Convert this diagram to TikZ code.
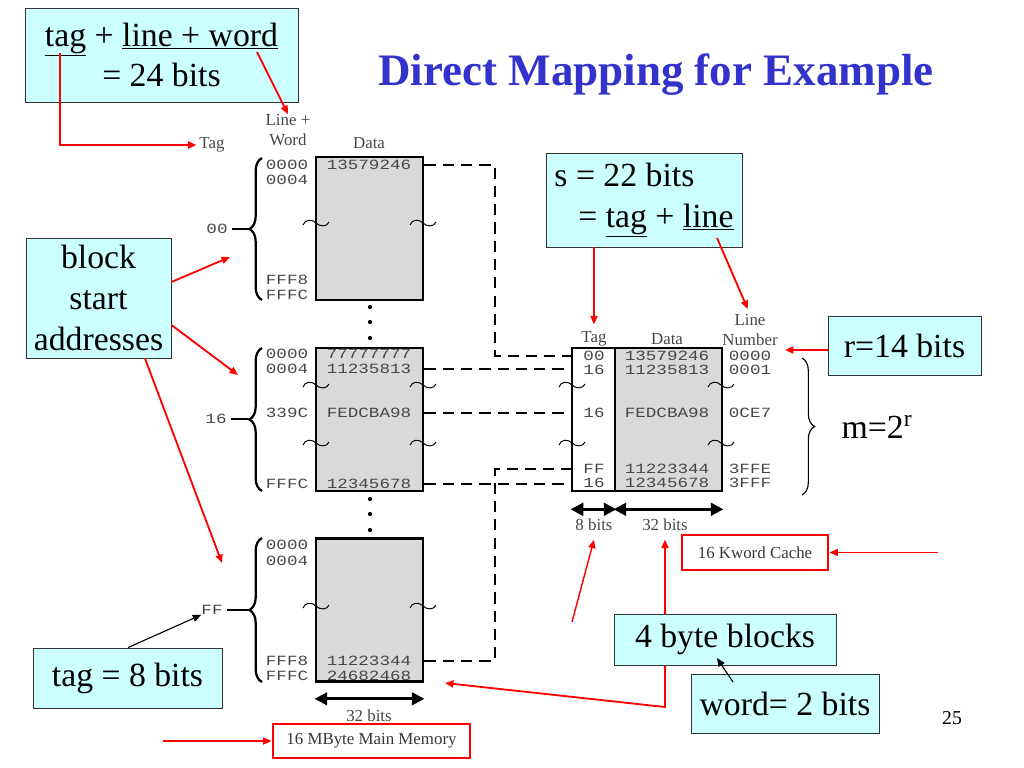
\documentclass[tikz,border=0pt]{standalone}
\usepackage{fontspec}
\setmainfont{Liberation Serif}
\newfontfamily\hexfont[FakeStretch=1.25]{Liberation Mono}
\usetikzlibrary{arrows.meta,decorations.pathreplacing}
\definecolor{callcyan}{HTML}{CCFFFF}
\definecolor{titleblue}{HTML}{3333CC}
\begin{document}
\begin{tikzpicture}[x=0.025cm,y=-0.025cm,
    callout/.style={draw=black!80,line width=0.6pt,fill=callcyan,font=\fontsize{24}{29}\selectfont,inner sep=2pt},
    hex/.style={font=\hexfont\fontsize{10}{12}\selectfont,text=black!72,inner sep=0pt},
    lbl/.style={font=\fontsize{12}{14}\selectfont,text=black!72,inner sep=0pt,align=center},
    blk/.style={draw,line width=2pt,fill=gray!30,minimum width=2.675cm,minimum height=3.575cm,inner sep=0pt},
    tagcol/.style={draw,line width=2pt,fill=white,minimum width=1.075cm,minimum height=3.575cm,inner sep=0pt},
    redbox/.style={draw=red,line width=2pt,fill=white,font=\fontsize{12}{14}\selectfont,text=black!78,inner sep=0pt},
    redarr/.style={draw=red,line width=1.3pt,-{Triangle[length=6pt,width=5pt]}},
    blkarr/.style={line width=0.8pt,-{Triangle[length=6pt,width=5pt]}},
    dimarr/.style={line width=2pt,{Triangle[length=9pt,width=9pt]}-{Triangle[length=9pt,width=9pt]}},
    dashln/.style={line width=2pt,dash pattern=on 8pt off 5pt},
    membrace/.style={line width=1.6pt,decorate,decoration={brace,amplitude=9pt}},
    brkmark/.pic={\draw[line width=0.7pt] (-13,2) .. controls (-11,-4) and (-4,-4) .. (0,0) .. controls (4,4) and (11,4) .. (13,-1);}]
  \useasboundingbox (0,0) rectangle (1024,768);

  \node[font=\fontsize{32}{38}\selectfont\bfseries,text=titleblue] (title) at (656,75) {Direct Mapping for Example};

  \node[callout,minimum width=6.825cm,minimum height=2.35cm,align=center] (addr) at (161.5,55) {\underline{tag} + \underline{line + word}\\= 24 bits};
  \node[callout,minimum width=3.625cm,minimum height=3cm,align=center] (bsa) at (98.5,298) {block\\start\\addresses};
  \node[callout,minimum width=4.725cm,minimum height=1.5cm] (tag8) at (127.5,678) {tag = 8 bits};
  \node[callout,minimum width=4.9cm,minimum height=2.35cm,align=left] (s22) at (644,200) {s = 22 bits\\\hspace*{17pt}= \underline{tag} + \underline{line}};
  \node[callout,minimum width=3.825cm,minimum height=1.475cm] (r14) at (904.5,345.5) {r=14 bits};
  \node[font=\fontsize{24}{29}\selectfont] (mlines) at (877,427) {m=2\textsuperscript{r}};
  \node[font=\fontsize{14}{17}\selectfont] (pgno) at (952,718) {25};

  \node[lbl] (mtag) at (212,145) {Tag};
  \node[lbl] (mlw) at (288,130) {Line +\\Word};
  \node[lbl] (mdata) at (369,143) {Data};

  \node[blk] (memA) at (369.5,228.5) {};
  \node[blk] (memB) at (369.5,419.5) {};
  \node[blk] (memC) at (369.5,610) {};

  \node[hex] (aA1) at (287,165) {0000};
  \node[hex] (aA2) at (287,180) {0004};
  \node[hex] (aA3) at (287,280) {FFF8};
  \node[hex] (aA4) at (287,295) {FFFC};
  \node[hex] (dA1) at (369,165) {13579246};

  \node[hex] (aB1) at (287,354) {0000};
  \node[hex] (aB2) at (287,369) {0004};
  \node[hex] (aB3) at (287,413) {339C};
  \node[hex] (aB4) at (287,484) {FFFC};
  \node[hex] (dB1) at (369,354) {77777777};
  \node[hex] (dB2) at (369,369) {11235813};
  \node[hex] (dB3) at (369,413) {FEDCBA98};
  \node[hex] (dB4) at (369,484) {12345678};

  \node[hex] (aC1) at (287,545) {0000};
  \node[hex] (aC2) at (287,561) {0004};
  \node[hex] (aC3) at (287,661) {FFF8};
  \node[hex] (aC4) at (287,676) {FFFC};
  \node[hex] (dC3) at (369,661) {11223344};
  \node[hex] (dC4) at (369,676) {24682468};

  \draw[membrace] (262,300) -- (262,158);
  \draw[membrace] (262,491) -- (262,348);
  \draw[membrace] (262,682) -- (262,538);
  \node[hex] (tA) at (217,229) {00};
  \node[hex] (tB) at (216,419) {16};
  \node[hex] (tC) at (212,610) {FF};
  \coordinate (bA) at (249,229);
  \coordinate (bB) at (249,419);
  \coordinate (bC) at (249,610);
  \begin{scope}[line width=1.6pt,shorten <=3pt]
    \draw (tA) -- (bA);
    \draw (tB) -- (bB);
    \draw (tC) -- (bC);
  \end{scope}

  \pic at (316,223) {brkmark};
  \pic at (423,223) {brkmark};
  \pic at (316,385) {brkmark};
  \pic at (423,385) {brkmark};
  \pic at (316,443) {brkmark};
  \pic at (423,443) {brkmark};
  \pic at (316,606) {brkmark};
  \pic at (423,606) {brkmark};

  \fill (370,307) circle[radius=1.5pt];
  \fill (370,322) circle[radius=1.5pt];
  \fill (370,338) circle[radius=1.5pt];
  \fill (370,499) circle[radius=1.5pt];
  \fill (370,514) circle[radius=1.5pt];
  \fill (370,530) circle[radius=1.5pt];

  \node[tagcol] (ctag) at (593.5,419.5) {};
  \node[blk] (cdata) at (668.5,419.5) {};
  \node[lbl] (ctg) at (594,339) {Tag};
  \node[lbl] (cdt) at (667,339) {Data};
  \node[lbl] (cln) at (750,330) {Line\\Number};

  \node[hex] (cT1) at (594,356) {00};
  \node[hex] (cT2) at (594,370) {16};
  \node[hex] (cT3) at (594,413) {16};
  \node[hex] (cT4) at (594,469) {FF};
  \node[hex] (cT5) at (594,483) {16};
  \node[hex] (cD1) at (667,356) {13579246};
  \node[hex] (cD2) at (667,370) {11235813};
  \node[hex] (cD3) at (667,413) {FEDCBA98};
  \node[hex] (cD4) at (667,469) {11223344};
  \node[hex] (cD5) at (667,483) {12345678};
  \node[hex] (cL1) at (750,356) {0000};
  \node[hex] (cL2) at (750,370) {0001};
  \node[hex] (cL3) at (750,413) {0CE7};
  \node[hex] (cL4) at (750,469) {3FFE};
  \node[hex] (cL5) at (750,483) {3FFF};

  \pic at (572,385) {brkmark};
  \pic at (572,443) {brkmark};
  \pic at (721,385) {brkmark};
  \pic at (721,443) {brkmark};

  \draw[line width=0.8pt,decorate,decoration={brace,amplitude=9pt}] (802,358) -- (802,495);

  \coordinate (jn1) at (495,260);
  \coordinate (jn2) at (495,560);
  \begin{scope}[dashln]
    \draw (memA.east |- dA1) -| (jn1) |- (ctag.west |- cT1);
    \draw (memB.east |- dB2) -- (ctag.west |- dB2);
    \draw (memB.east |- dB3) -- (ctag.west |- dB3);
    \draw (memB.east |- dB4) -- (ctag.west |- dB4);
    \draw (memC.east |- dC3) -| (jn2) |- (ctag.west |- cT4);
  \end{scope}

  \draw[dimarr] ([yshift=-11.3pt]memC.south west) -- ([yshift=-11.3pt]memC.south east);
  \draw[dimarr] ([yshift=-12pt]ctag.south west) -- ([yshift=-12pt]ctag.south east);
  \draw[dimarr] ([yshift=-12pt]cdata.south west) -- ([yshift=-12pt]cdata.south east);
  \node[lbl] (m32) at (369,716) {32 bits};
  \node[lbl] (b8) at (594,525) {8 bits};
  \node[lbl] (b32) at (665,525) {32 bits};

  \node[redbox,minimum width=4.925cm,minimum height=0.85cm] (mmem) at (371.5,741) {16 MByte Main Memory};
  \node[redbox,minimum width=3.65cm,minimum height=0.875cm] (kcache) at (755,552.5) {16 Kword Cache};

  \coordinate (m4tip) at (445,683);
  \coordinate (m4bend) at (665,707);
  \draw[draw=red,line width=1.3pt,{Triangle[length=6pt,width=5pt]}-{Triangle[length=6pt,width=5pt]}] (m4tip) -- (m4bend) -- ([yshift=-6pt]b32.south);
  \node[callout,minimum width=5.55cm,minimum height=1.275cm] (byte4) at (725,639.5) {4 byte blocks};
  \node[callout,minimum width=4.7cm,minimum height=1.475cm] (word2) at (785,703.5) {word= 2 bits};

  \coordinate (tagu) at (60,53);
  \coordinate (wordu) at (257,52);
  \coordinate (lineu) at (717,238);
  \coordinate (rtip) at (785,350);
  \coordinate (bsA) at (230,257);
  \coordinate (bsB) at (238,375);
  \coordinate (bsC) at (222,563);
  \coordinate (b8s) at (572,622);
  \coordinate (kcs) at (938,552.5);
  \coordinate (mms) at (163,741);
  \coordinate (w2s) at (733,682);
  \coordinate (w2e) at (717,658);
  \begin{scope}[redarr]
    \draw[shorten >=2pt] (tagu) |- (mtag.west);
    \draw (wordu) -- (mlw.north);
    \draw[shorten >=5pt] (ctg.north |- s22.south) -- (ctg.north);
    \draw[shorten >=4pt] (lineu) -- (cln.north);
    \draw (r14.west |- rtip) -- (rtip);
    \draw (bsa.east |- 0,282) -- (bsA);
    \draw (bsa.east |- 0,325) -- (bsB);
    \draw (bsa.south -| 145,0) -- (bsC);
  \end{scope}
  \begin{scope}[redarr,line width=1pt]
    \draw (b8s) -- ([yshift=-6pt]b8.south);
    \draw (kcs) -- (kcache.east);
    \draw (mms) -- (mmem.west);
  \end{scope}
  \draw[blkarr] (tag8.north -| 128,0) -- (tC.south west);
  \draw[blkarr] (w2s) -- (w2e);
\end{tikzpicture}
\end{document}
